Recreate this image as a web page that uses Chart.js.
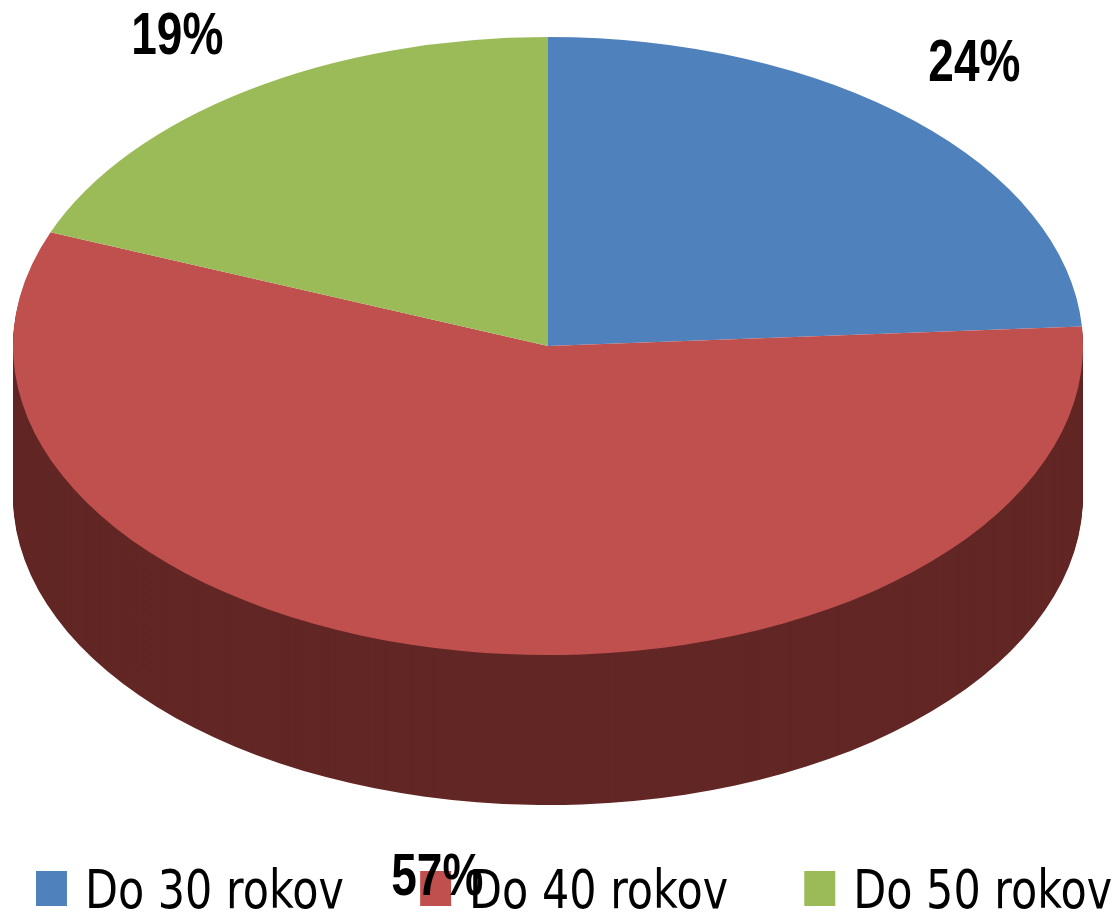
<!DOCTYPE html>
<html><head><meta charset="utf-8">
<style>html,body{margin:0;padding:0;background:#fff;overflow:hidden}canvas{display:block}</style>
<script src="https://cdn.jsdelivr.net/npm/chart.js@4"></script></head>
<body><canvas id="c" width="1113" height="914"></canvas>
<script>
const categories = ['Do 30 rokov', 'Do 40 rokov', 'Do 50 rokov'];
const seriesValues = [24, 57, 19];
const percentLabels = ['24%', '57%', '19%'];
const sliceColors = ['#4F81BD', '#C0504D', '#9BBB59'];
const wallColor = '#622725';
// Projection of the flat pie onto the tilted ellipse
const view = {cx: 548, cy: 346, rx: 535, ry: 309, depth: 150};
// Label placement relative to the ellipse (multiples of rx, ry from centre)
const labelAnchor = [[0.797, -0.909], [-0.207, 1.725], [-0.693, -0.996]];
// The legend text in the reference is stretched; legend is drawn through this transform
const legendStretch = {sx: 1.12, sy: 1.38, left: 36, midY: 888.5, stroke: 6.25, textDrop: 4};

function project(ctx, el, shift) {
  const r = el.outerRadius;
  ctx.translate(view.cx, view.cy + shift);
  ctx.scale(view.rx / r, view.ry / r);
  ctx.translate(-el.x, -el.y);
}
const tiltPlugin = {
  id: 'tilt',
  beforeDraw(chart) {
    const legend = chart.legend;
    if (legend.__wrapped) return;
    legend.__wrapped = true;
    const orig = legend.draw.bind(legend);
    legend.draw = function () {
      const ctx = chart.ctx, hit = legend.legendHitBoxes[0], s = legendStretch;
      const fill = ctx.fillText;
      ctx.save();
      ctx.translate(s.left + s.stroke * s.sx / 2 - hit.left * s.sx, s.midY - (hit.top + hit.height / 2) * s.sy);
      ctx.scale(s.sx, s.sy);
      ctx.fillText = (t, x, y, m) => fill.call(ctx, t, x, y + s.textDrop, m);
      orig();
      delete ctx.fillText;
      ctx.restore();
    };
  },
  beforeDatasetsDraw(chart) {
    const ctx = chart.ctx, el = chart.getDatasetMeta(0).data[1];
    for (let s = view.depth; s > 0; s -= 2) {
      ctx.save();
      project(ctx, el, s);
      ctx.beginPath();
      ctx.moveTo(el.x, el.y);
      ctx.arc(el.x, el.y, el.outerRadius, el.startAngle, el.endAngle);
      ctx.closePath();
      ctx.fillStyle = wallColor;
      ctx.fill();
      ctx.restore();
    }
    ctx.save();
    project(ctx, el, 0);
  },
  afterDatasetsDraw(chart) {
    const ctx = chart.ctx;
    ctx.restore();
    ctx.save();
    ctx.font = 'bold 46px "Liberation Sans", sans-serif';
    ctx.fillStyle = '#000';
    ctx.textAlign = 'center';
    ctx.textBaseline = 'middle';
    percentLabels.forEach((t, i) => {
      ctx.save();
      ctx.translate(view.cx + labelAnchor[i][0] * view.rx, view.cy + labelAnchor[i][1] * view.ry);
      ctx.scale(1, 1.27);
      ctx.fillText(t, 0, 0);
      ctx.restore();
    });
    ctx.restore();
  }
};
new Chart(document.getElementById('c'), {
  type: 'pie',
  data: {labels: categories, datasets: [{data: seriesValues, backgroundColor: sliceColors, borderWidth: 0}]},
  options: {
    responsive: false,
    animation: false,
    devicePixelRatio: 1,
    plugins: {
      tooltip: {enabled: false},
      legend: {
        position: 'bottom',
        labels: {
          boxWidth: 21.4, boxHeight: 19.1, padding: 71.2,
          color: '#000',
          font: {size: 38.3, family: '"DejaVu Sans", sans-serif'},
          generateLabels(chart) {
            return Chart.overrides.pie.plugins.legend.labels.generateLabels(chart).map((it, i) => ({
              ...it, strokeStyle: sliceColors[i], lineWidth: legendStretch.stroke
            }));
          }
        }
      }
    }
  },
  plugins: [tiltPlugin]
});
</script></body></html>
